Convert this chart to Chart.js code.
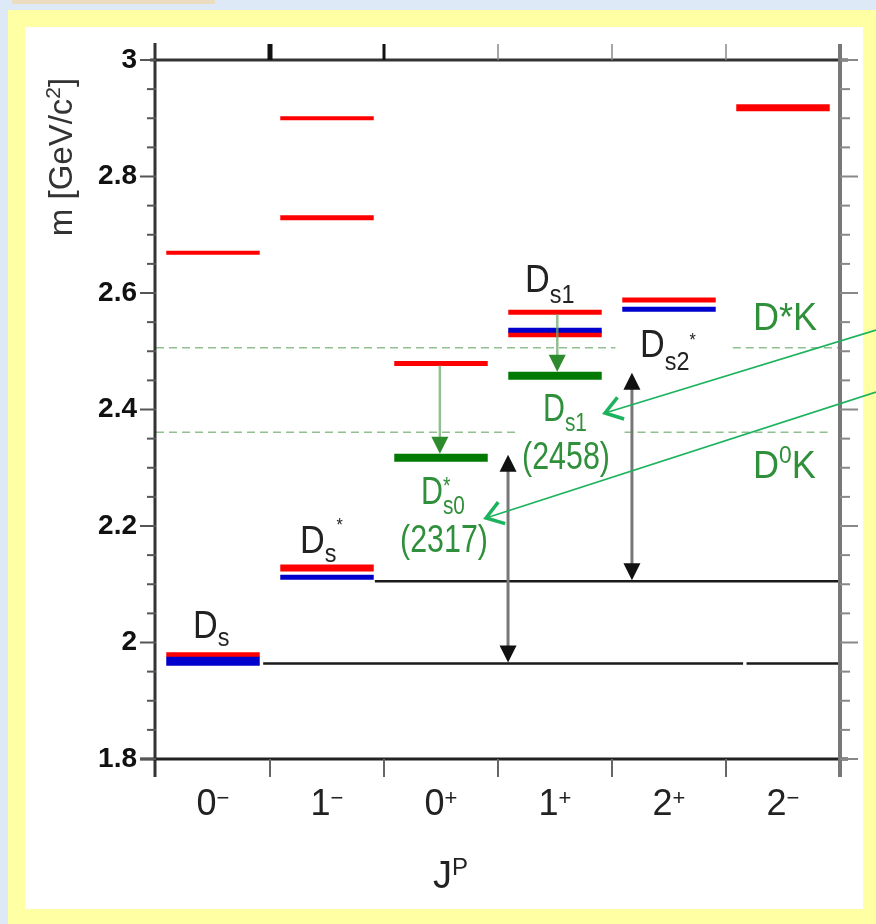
<!DOCTYPE html>
<html>
<head>
<meta charset="utf-8">
<script src="https://cdn.jsdelivr.net/npm/chart.js@4.4.1/dist/chart.umd.min.js"></script>
<style>
  html, body { margin: 0; padding: 0; }
  body { width: 876px; height: 924px; position: relative; overflow: hidden; background: #dde9f6; }
  #tab { position: absolute; left: 12px; top: 0; width: 203px; height: 4px; background: #ecdcc0; }
  #frame { position: absolute; left: 8px; top: 10px; width: 868px; height: 914px; background: #ffffa3; }
  #paper { position: absolute; left: 25px; top: 27px; width: 838px; height: 882px; background: #ffffff; }
  #levels { position: absolute; left: 0; top: 0; }
</style>
</head>
<body>
<div id="tab"></div>
<div id="frame"></div>
<div id="paper"></div>
<canvas id="levels" width="876" height="924"></canvas>
<script>
// J^P columns
const jValues = ["0", "1", "0", "1", "2", "2"];
const parities = ["\u2212", "\u2212", "+", "+", "+", "\u2212"];

// potential model predictions (GeV/c^2)
const predColumn = [0, 0, 1, 1, 1, 2, 3, 3, 4, 5];
const predMass = [2.669, 1.979, 2.900, 2.729, 2.128, 2.479, 2.567, 2.529, 2.588, 2.918];

// measured cs-bar states
const measColumn = [0, 1, 3, 4];
const measMass = [1.968, 2.112, 2.536, 2.572];

// the two narrow states below threshold
const narrowColumn = [2, 3];
const narrowMass = [2.317, 2.458];

// DK thresholds
const thresholdMass = [2.506, 2.361];

// Ds and Ds* reference lines
const refMass = [1.964, 2.105];

const yTicks = [1.8, 2.0, 2.2, 2.4, 2.6, 2.8, 3.0];
const yTickLabels = ["1.8", "2", "2.2", "2.4", "2.6", "2.8", "3"];

// ---- styling ----
const RED = "#ff0000", BLUE = "#0000cc", GREEN = "#007a00";
const predWidth = [4, 5, 4, 5, 7, 5, 5, 6, 5, 7];
const measWidth = [9, 5, 5, 5];
const L0 = 0.09, L1 = 0.91;   // level extent inside a column

function level(col, m, color, w) {
  return {
    data: [{x: col + L0, y: m}, {x: col + L1, y: m}],
    borderColor: color, borderWidth: w, borderCapStyle: "butt",
    pointRadius: 0, fill: false, clip: false
  };
}
function segments(m, pieces, color, w, dash) {
  const data = [];
  pieces.forEach((p, i) => {
    if (i > 0) data.push({x: (pieces[i - 1][1] + p[0]) / 2, y: null});
    data.push({x: p[0], y: m}, {x: p[1], y: m});
  });
  return {
    data: data, borderColor: color, borderWidth: w, borderDash: dash || [],
    borderCapStyle: "butt", pointRadius: 0, spanGaps: false, fill: false, clip: false
  };
}

const datasets = [];
datasets.push(segments(thresholdMass[0], [[0, 4.03], [5.06, 6]], "rgba(70,150,70,0.6)", 1.5, [8, 5]));
datasets.push(segments(thresholdMass[1], [[0, 3.15], [4.11, 5.93]], "rgba(70,150,70,0.6)", 1.5, [8, 5]));
datasets.push(segments(refMass[0], [[0.94, 5.15], [5.18, 6]], "#1a1a1a", 2.5));
datasets.push(segments(refMass[1], [[1.92, 6]], "#1a1a1a", 2.5));
predColumn.forEach((c, i) => datasets.push(level(c, predMass[i], RED, predWidth[i])));
measColumn.forEach((c, i) => datasets.push(level(c, measMass[i], BLUE, measWidth[i])));
narrowColumn.forEach((c, i) => datasets.push(level(c, narrowMass[i], GREEN, 8)));
datasets.forEach((d, i) => { d.order = -i; });

// text with sub/superscripts: parts are [text, size, dy, advance?]
function rich(ctx, x, y, parts, color, sx, align) {
  ctx.save();
  ctx.fillStyle = color;
  ctx.textBaseline = "alphabetic";
  ctx.textAlign = "left";
  let w = 0;
  parts.forEach(p => { ctx.font = p[1] + "px Arial"; if (p[3] !== false) w += ctx.measureText(p[0]).width; });
  ctx.translate(x, y);
  ctx.scale(sx || 1, 1);
  let cx = align === "center" ? -w / 2 : 0;
  parts.forEach(p => {
    ctx.font = p[1] + "px Arial";
    ctx.fillText(p[0], cx, p[2]);
    if (p[3] !== false) cx += ctx.measureText(p[0]).width;
  });
  ctx.restore();
}

function tri(ctx, x, tipY, up, w, h, color) {
  const b = up ? tipY + h : tipY - h;
  ctx.fillStyle = color;
  ctx.beginPath();
  ctx.moveTo(x, tipY);
  ctx.lineTo(x - w / 2, b);
  ctx.lineTo(x + w / 2, b);
  ctx.closePath();
  ctx.fill();
}

function line(ctx, x1, y1, x2, y2, color, w) {
  ctx.strokeStyle = color;
  ctx.lineWidth = w;
  ctx.beginPath();
  ctx.moveTo(x1, y1);
  ctx.lineTo(x2, y2);
  ctx.stroke();
}

const annotations = {
  id: "annotations",
  afterDraw(chart) {
    const ctx = chart.ctx;
    const X = v => chart.scales.x.getPixelForValue(v);
    const Y = v => chart.scales.y.getPixelForValue(v);
    const a = chart.chartArea;
    ctx.save();
    ctx.lineCap = "butt";

    // axes frame
    line(ctx, a.left - 1, a.top - 17, a.left - 1, a.bottom + 18, "#333", 3);
    line(ctx, a.left - 16, a.bottom, a.right + 8, a.bottom, "#222", 3);
    line(ctx, a.left - 6, a.top, a.right + 8, a.top, "#333", 3);
    line(ctx, a.right, a.top - 16, a.right, a.bottom + 18, "#777", 4);
    for (let c = 1; c < 6; c++) {
      line(ctx, X(c), a.bottom, X(c), a.bottom + 18, "#666", 2);
      const tw = c === 1 ? 5 : c === 2 ? 3 : 1.5;
      line(ctx, X(c), a.top - 16, X(c), a.top, c < 3 ? "#111" : "#888", tw);
    }
    for (let k = 0; k <= 24; k++) {
      const y = Y(1.8 + k * 0.05);
      const major = k % 4 === 0;
      line(ctx, a.left - (major ? 16 : 9), y, a.left, y, "#555", 2);
      line(ctx, a.right, y, a.right + (major ? 18 : 10), y, "#888", 2);
    }

    // decays to the narrow states
    [[2.49, predMass[5], narrowMass[0]], [3.52, predMass[6], narrowMass[1]]].forEach(d => {
      const x = X(d[0]);
      const tip = Y(d[2]) - 4;
      line(ctx, x, Y(d[1]) + 2, x, tip - 14, "rgba(110,170,110,0.75)", 2.5);
      tri(ctx, x, tip, false, 17, 17, "#2d8a2d");
    });

    // mass differences to Ds and Ds*
    [[3.088, refMass[0], narrowMass[0]], [4.175, refMass[1], narrowMass[1]]].forEach(d => {
      const x = X(d[0]);
      const lo = Y(d[1]) - 1, hi = Y(d[2]) - 3;
      line(ctx, x, lo - 10, x, hi + 10, "#777", 3);
      tri(ctx, x, hi, true, 17, 17, "#111");
      tri(ctx, x, lo, false, 17, 17, "#111");
    });

    // state names
    const dark = "#222", green = "#2f8f3a";
    rich(ctx, X(0) + 37, Y(predMass[1]) - 17, [["D", 38, 0], ["s", 26, 8]], dark, 0.9);
    rich(ctx, X(1) + 30, Y(predMass[4]) - 15, [["D", 38, 0], ["s", 26, 9], ["*", 18, -22]], dark, 0.9);
    rich(ctx, X(3) + 27, Y(predMass[6]) - 20, [["D", 38, 0], ["s1", 26, 11]], dark, 0.9);
    rich(ctx, X(4) + 28, Y(predMass[8]) + 57, [["D", 38, 0], ["s2", 26, 13], ["*", 18, -11]], dark, 0.9);

    rich(ctx, X(2) + 37, Y(narrowMass[0]) + 46, [["D", 38, 0], ["*", 24, -10, false], ["s0", 26, 10]], green, 0.8);
    rich(ctx, X(2) + 60, Y(narrowMass[0]) + 94, [["(" + Math.round(narrowMass[0] * 1000) + ")", 38, 0]], green, 0.8, "center");
    rich(ctx, X(3) + 45, Y(narrowMass[1]) + 45, [["D", 38, 0], ["s1", 26, 10]], green, 0.8);
    rich(ctx, X(3) + 68, Y(narrowMass[1]) + 93, [["(" + Math.round(narrowMass[1] * 1000) + ")", 38, 0]], green, 0.8, "center");

    rich(ctx, 753, Y(thresholdMass[0]) - 18, [["D*K", 38, 0]], green, 0.95);
    rich(ctx, 753, Y(thresholdMass[1]) + 46, [["D", 38, 0], ["0", 24, -15], ["K", 38, 0]], green, 0.95);

    // pointers to the narrow states
    const pc = "#1db35e";
    [[876, 330, 605, 413], [876, 392, 486, 518]].forEach(p => {
      line(ctx, p[0], p[1], p[2], p[3], pc, 1.8);
      const ang = Math.atan2(p[1] - p[3], p[0] - p[2]);
      ctx.strokeStyle = pc;
      ctx.lineWidth = 3.5;
      ctx.lineJoin = "miter";
      ctx.beginPath();
      ctx.moveTo(p[2] + 20 * Math.cos(ang + 0.6), p[3] + 20 * Math.sin(ang + 0.6));
      ctx.lineTo(p[2], p[3]);
      ctx.lineTo(p[2] + 20 * Math.cos(ang - 0.6), p[3] + 20 * Math.sin(ang - 0.6));
      ctx.stroke();
    });

    // J^P labels
    for (let c = 0; c < 6; c++) {
      rich(ctx, X(c + 0.5), a.bottom + 56, [[jValues[c], 36, 0], [parities[c], 22, -10]], "#222", 1, "center");
    }
    rich(ctx, X(2.5) - 8, a.bottom + 129, [["J", 38, 0], ["P", 24, -13]], "#222", 1);

    // mass axis title
    ctx.save();
    ctx.translate(72, 157);
    ctx.rotate(-Math.PI / 2);
    rich(ctx, 0, 0, [["m [GeV/c", 33, 0], ["2", 21, -12], ["]", 33, 0]], "#333", 1, "center");
    ctx.restore();

    ctx.restore();
  }
};

new Chart(document.getElementById("levels"), {
  type: "line",
  data: { datasets: datasets },
  plugins: [annotations],
  options: {
    responsive: false,
    animation: false,
    devicePixelRatio: 1,
    layout: { padding: { top: 60, right: 36, left: 0, bottom: 0 } },
    plugins: { legend: { display: false }, tooltip: { enabled: false } },
    scales: {
      x: {
        type: "linear", min: 0, max: 6,
        grid: { display: false }, border: { display: false },
        ticks: { display: false },
        afterFit: s => { s.height = 165; s.paddingLeft = s.paddingRight = 0; }
      },
      y: {
        type: "linear", min: 1.8, max: 3.0,
        grid: { display: false }, border: { display: false },
        afterBuildTicks: s => { s.ticks = yTicks.map(v => ({ value: v })); },
        ticks: {
          autoSkip: false, padding: 11, color: "#111",
          font: { family: "Arial", size: 28, weight: "bold" },
          callback: (v, i) => yTickLabels[i]
        },
        afterFit: s => { s.width = 156; s.paddingTop = s.paddingBottom = 0; }
      }
    }
  }
});
</script>
</body>
</html>
